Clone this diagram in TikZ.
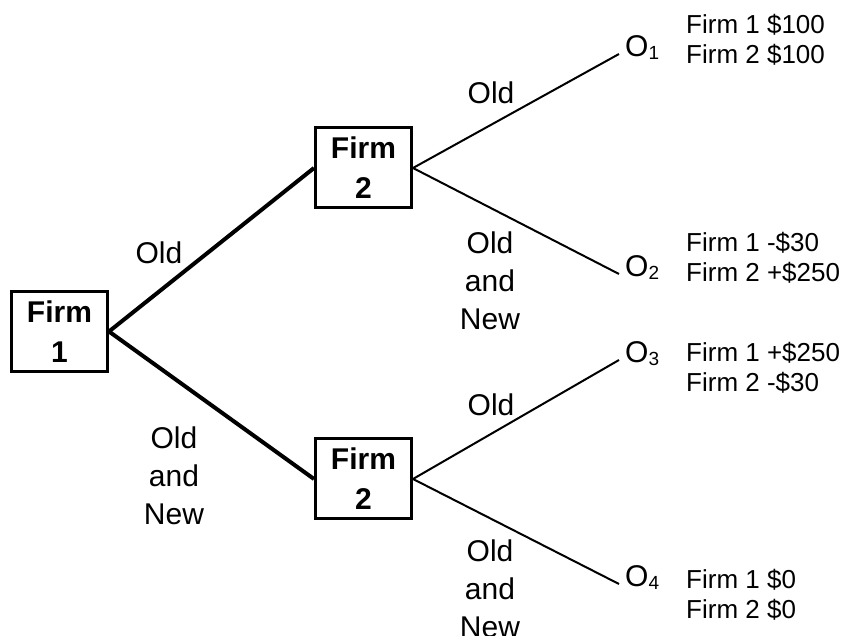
\documentclass[tikz,border=0pt]{standalone}
\usepackage{fontspec}
\setmainfont{Liberation Sans}
\usetikzlibrary{positioning}
\newcommand{\osub}[1]{\raisebox{-3pt}{\fontsize{19}{19}\selectfont #1}}

\begin{document}
\begin{tikzpicture}[x=1pt, y=-1pt,
    every node/.style={align=center, inner sep=0pt},
    firm/.style={draw, line width=3pt, minimum width=96pt, minimum height=80pt,
    font=\fontsize{30}{40}\selectfont\bfseries},
    choice/.style={font=\fontsize{30}{38}\selectfont},
    outcome/.style={anchor=mid west, inner xsep=6pt, font=\fontsize{30}{30}\selectfont},
    payoff/.style={anchor=west, align=left, font=\fontsize{26}{30}\selectfont}
    ]
    \useasboundingbox (0,0) rectangle (847,636);

    \node[firm](firm1) at (59.5,331.5){Firm\\1};
    \node[firm](firm2a) at (363.5,168){Firm\\2};
    \node[firm](firm2b) at (363.5,479){Firm\\2};

    \node[outcome](o1) at (619,54){O\osub{1}};
    \node[outcome](o2) at (619,274){O\osub{2}};
    \node[outcome](o3) at (619,360){O\osub{3}};
    \node[outcome](o4) at (619,584){O\osub{4}};

    \node[payoff](pay1) at (686,40){Firm 1 \$100\\Firm 2 \$100};
    \node[payoff](pay2) at (686,257.5){Firm 1 -\$30\\Firm 2 +\$250};
    \node[payoff](pay3) at (686,367.5){Firm 1 +\$250\\Firm 2 -\$30};
    \node[payoff](pay4) at (686,595){Firm 1 \$0\\Firm 2 \$0};

    \node[choice](old1) at (159,253){Old};
    \node[choice](both1) at (174,476){Old\\and\\New};
    \node[choice](old2) at (491,93){Old};
    \node[choice](both2) at (490,281){Old\\and\\New};
    \node[choice](old3) at (491,405){Old};
    \node[choice](both3) at (490,589){Old\\and\\New};

    \draw[line width=4pt] (firm1.east) -- (firm2a.west);
    \draw[line width=4pt] (firm1.east) -- (firm2b.west);
    \draw[line width=2pt] (firm2a.east) -- (o1.mid west);
    \draw[line width=2pt] (firm2a.east) -- (o2.mid west);
    \draw[line width=2pt] (firm2b.east) -- (o3.mid west);
    \draw[line width=2pt] (firm2b.east) -- (o4.mid west);
\end{tikzpicture}
\end{document}
